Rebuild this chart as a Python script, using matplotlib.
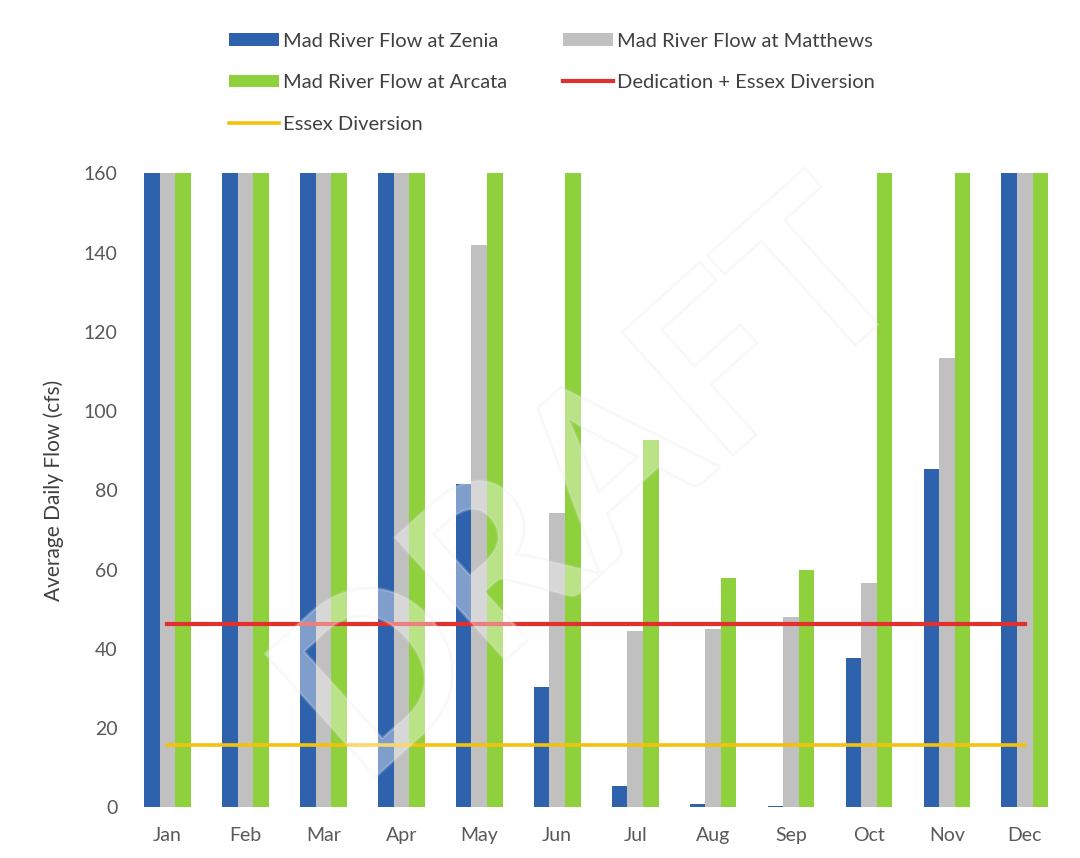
import matplotlib.pyplot as plt
import matplotlib.patheffects as pe
import numpy as np

plt.rcParams['font.family'] = ['Lato', 'DejaVu Sans']

months = ["Jan", "Feb", "Mar", "Apr", "May", "Jun", "Jul", "Aug", "Sep", "Oct", "Nov", "Dec"]
zenia = [160, 160, 160, 160, 81.6, 30.3, 5.4, 0.9, 0.4, 37.8, 85.4, 160]
matthews = [160, 160, 160, 160, 142, 74.3, 44.5, 45, 48, 56.5, 113.5, 160]
arcata = [160, 160, 160, 160, 160, 160, 92.6, 58, 60, 160, 160, 160]
dedication_essex = [46.2] * 12
essex = [15.7] * 12

blue = "#2f62ad"
grey = "#c0c0c0"
green = "#8fd13c"
red = "#e0312f"
yellow = "#f4c20d"

fig = plt.figure(figsize=(10.8, 8.58), dpi=100)
ax = fig.add_axes([0.119, 0.059, 0.866, 0.739])

x = np.arange(len(months))
w = 0.2
b1 = ax.bar(x - w, zenia, w, color=blue, label="Mad River Flow at Zenia")
b2 = ax.bar(x, matthews, w, color=grey, label="Mad River Flow at Matthews")
b3 = ax.bar(x + w, arcata, w, color=green, label="Mad River Flow at Arcata")
l1, = ax.plot(x, dedication_essex, color=red, lw=3, label="Dedication + Essex Diversion")
l2, = ax.plot(x, essex, color=yellow, lw=2.6, label="Essex Diversion")

ax.set_xlim(-0.5, 11.5)
ax.set_ylim(0, 160)
ax.set_yticks(np.arange(0, 161, 20))
ax.set_xticks(x)
ax.set_xticklabels(months)
ax.tick_params(length=0, labelsize=14, colors="#595959")
ax.tick_params(axis="x", pad=14)
ax.tick_params(axis="y", pad=8)
for s in ax.spines.values():
    s.set_visible(False)
ax.set_ylabel("Average Daily Flow (cfs)", fontsize=15, color="#404040", labelpad=14)

# faint DRAFT stamp across the plot
ax.text(0.5, 0.5, "DRAFT", transform=ax.transAxes, fontsize=165, rotation=42,
        ha="center", va="center", color="white", alpha=0.22, fontweight="bold",
        path_effects=[pe.withStroke(linewidth=2, foreground="#e2e2e2")], zorder=5)

fig.legend([b1, b3, l2, b2, l1],
           ["Mad River Flow at Zenia", "Mad River Flow at Arcata", "Essex Diversion",
            "Mad River Flow at Matthews", "Dedication + Essex Diversion"],
           ncol=2, loc="upper left", bbox_to_anchor=(0.212, 0.962), frameon=False,
           fontsize=14.5, handlelength=2.5, handleheight=0.6, handletextpad=0.2,
           columnspacing=2.75, labelspacing=1.22, borderpad=0, borderaxespad=0,
           labelcolor="#404040")

fig.savefig("out.png", dpi=100)
